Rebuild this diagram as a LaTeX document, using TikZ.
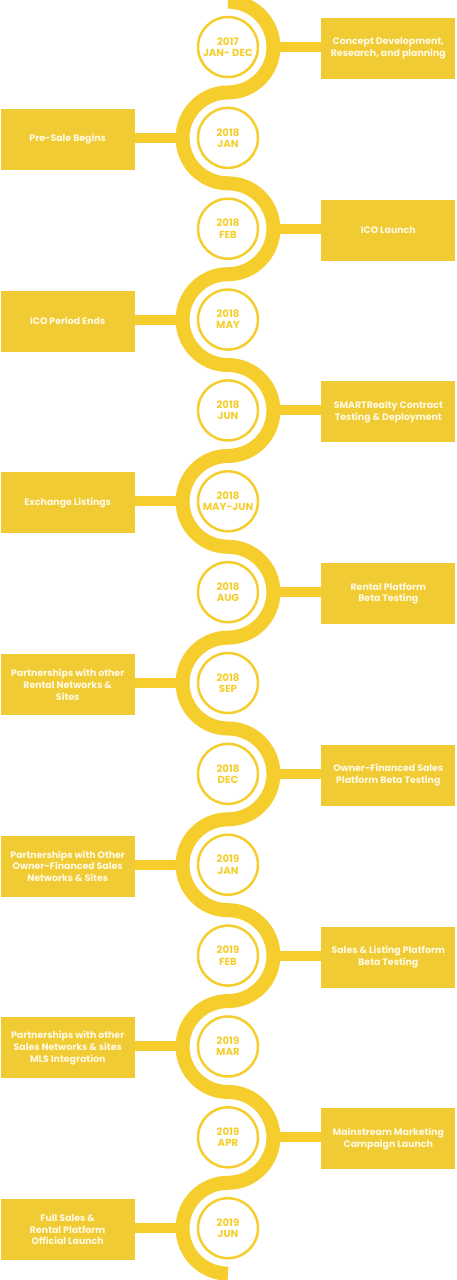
\documentclass[tikz,border=0pt]{standalone}
\usepackage{fontspec}
\setmainfont{Poppins}
\definecolor{bandyellow}{RGB}{245,206,46}
\definecolor{boxyellow}{RGB}{241,203,52}
\definecolor{boxtext}{RGB}{255,250,228}
\tikzset{
  band/.style={draw=bandyellow, line width=14pt},
  bar/.style={draw=bandyellow, line width=10pt},
  datecirc/.style={circle, draw=bandyellow, line width=2.5pt, fill=white,
    minimum size=60pt, inner sep=0pt, align=center, text=bandyellow,
    font=\bfseries\fontsize{10.2}{11.2}\selectfont},
  eventbox/.style={rectangle, fill=boxyellow, minimum width=134pt,
    minimum height=61pt, inner sep=1pt, align=center, text=boxtext,
    font=\bfseries\fontsize{9.4}{11.8}\selectfont}
}
\begin{document}
\begin{tikzpicture}[x=1pt, y=1pt]
  \useasboundingbox (0,0) rectangle (456,-1280);
  \clip (0,0) rectangle (456,-1280);
  % winding band
  \draw[band] (228,-1.6)
    foreach \i [evaluate=\i as \e using {90+180*(2*mod(\i,2)-1)}] in {0,...,13}
      { arc[start angle=90, end angle=\e, radius=45.43] };
  % milestones
  \foreach \d/\t [count=\i from 0] in {
      {2017\\JAN- DEC}/{Concept Development,\\Research, and planning},
      {2018\\JAN}/{Pre-Sale Begins},
      {2018\\FEB}/{ICO Launch},
      {2018\\MAY}/{ICO Period Ends},
      {2018\\JUN}/{SMARTRealty Contract\\Testing \& Deployment},
      {2018\\MAY-JUN}/{Exchange Listings},
      {2018\\AUG}/{Rental Platform\\Beta Testing},
      {2018\\SEP}/{Partnerships with other\\Rental Networks \&\\Sites},
      {2018\\DEC}/{Owner-Financed Sales\\Platform Beta Testing},
      {2019\\JAN}/{Partnerships with Other\\Owner-Financed Sales\\Networks \& Sites},
      {2019\\FEB}/{Sales \& Listing Platform\\Beta Testing},
      {2019\\MAR}/{Partnerships with other\\Sales Networks \& sites\\MLS Integration},
      {2019\\APR}/{Mainstream Marketing\\Campaign Launch},
      {2019\\JUN}/{Full Sales \&\\Rental Platform\\Official Launch}} {
    \pgfmathsetmacro\y{-47-90.86*\i}
    \pgfmathsetmacro\s{1-2*mod(\i,2)}
    \ifodd\i \def\anc{east}\else\def\anc{west}\fi
    \node[datecirc] (d\i) at (228,\y) {\d};
    \coordinate (a\i) at ({228+\s*48},\y);
    \node[eventbox] (e\i) at ({228+\s*160.3},{\y-1.5}) {\t};
    \draw[bar] (a\i) -- (a\i -| e\i.\anc);
  }
\end{tikzpicture}
\end{document}
